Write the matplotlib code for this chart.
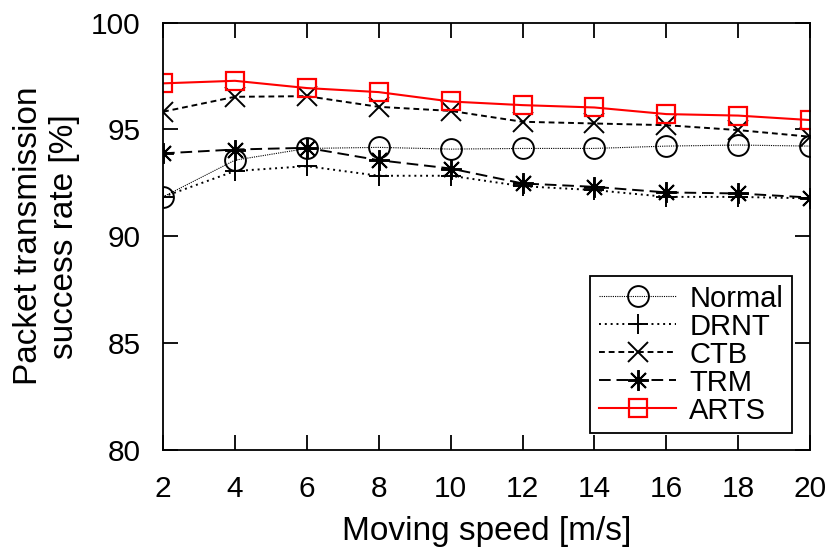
import matplotlib.pyplot as plt

plt.rcParams.update({"font.family": ["Liberation Sans", "DejaVu Sans"], "font.size": 24})

speed = [2, 4, 6, 8, 10, 12, 14, 16, 18, 20]
normal = [91.84, 93.56, 94.11, 94.16, 94.08, 94.11, 94.11, 94.22, 94.27, 94.22]
drnt = [91.84, 93.05, 93.28, 92.83, 92.83, 92.34, 92.16, 91.84, 91.84, 91.77]
ctb = [95.83, 96.53, 96.56, 96.06, 95.87, 95.36, 95.28, 95.20, 94.97, 94.66]
trm = [93.88, 94.06, 94.14, 93.56, 93.17, 92.47, 92.31, 92.05, 92.00, 91.81]
arts = [97.16, 97.28, 96.94, 96.75, 96.31, 96.14, 96.03, 95.72, 95.65, 95.44]

fig = plt.figure(figsize=(8.36, 5.55), dpi=100)
ax = fig.add_axes([0.195, 0.19, 0.774, 0.769])

mk = dict(markersize=15, markerfacecolor='none', markeredgewidth=1.4)
ax.plot(speed, normal, color='black', linestyle=(0, (1, 1)), linewidth=0.8, marker='o', label='Normal', **mk)
ax.plot(speed, drnt, color='black', linestyle=(0, (1, 2)), linewidth=1.4, marker='+', label='DRNT', **mk)
ax.plot(speed, ctb, color='black', linestyle=(0, (3, 2)), linewidth=1.4, marker='x', label='CTB', **mk)
ax.plot(speed, trm, color='black', linestyle=(0, (6, 3)), linewidth=1.4, marker=(8, 2, 0), label='TRM', **mk)
ax.plot(speed, arts, color='red', linestyle='-', linewidth=1.5, marker='s', label='ARTS',
        markersize=13.5, markerfacecolor='none', markeredgewidth=1.6)

ax.set_xlim(2, 20)
ax.set_ylim(80, 100)
ax.set_xticks(speed)
ax.set_yticks([80, 85, 90, 95, 100])
ax.tick_params(direction='in', length=11, width=1.3, top=True, right=True, labelsize=21.5)
ax.tick_params(axis='x', pad=18)
ax.tick_params(axis='y', pad=16)
for s in ax.spines.values():
    s.set_linewidth(1.3)

ax.set_xlabel('Moving speed [m/s]', labelpad=10)
ax.set_ylabel('Packet transmission\nsuccess rate [%]', labelpad=8)

ax.legend(loc='lower right', fontsize=21, fancybox=False, edgecolor='black', framealpha=1,
          handlelength=2.65, labelspacing=0.0, borderpad=0.3, handletextpad=0.45,
          borderaxespad=0, bbox_to_anchor=(0.972, 0.038))
ax.get_legend().get_frame().set_linewidth(1.3)

plt.savefig('out.png', dpi=100)
